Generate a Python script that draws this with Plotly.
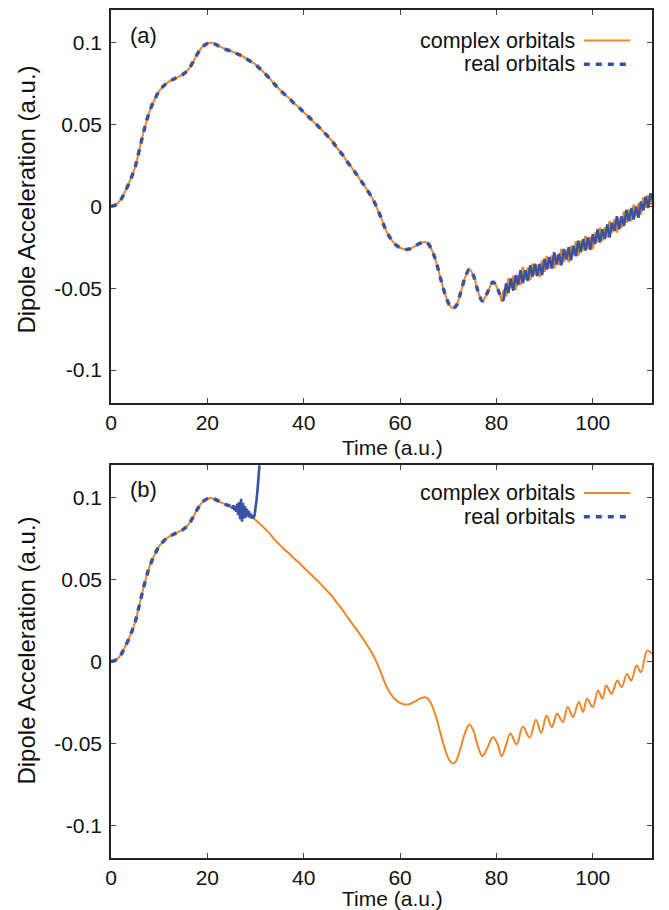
import plotly.graph_objects as go

# ---------------- data ----------------
# shared smooth part of the dipole acceleration (both panels, both orbital types)
t_base = [0, 1, 2, 3, 4, 5, 6, 7, 8, 9, 10, 11, 12, 13, 14, 15, 16, 17, 18, 19, 20,
          20.8, 21.5, 22.5, 24, 25, 26, 27, 28, 29, 30, 31, 32, 33, 34, 35, 36, 37, 38,
          39, 40, 41, 42, 43, 44, 45, 46, 47, 48, 49, 50, 51, 52, 53, 54, 55, 56, 57,
          58, 59, 60, 61, 62, 63, 64, 65, 65.6, 66.5, 67.5, 68.5, 69.5, 70.3, 71, 71.7,
          72.5, 73.5, 74.4, 75.2, 76.2, 77.1, 78.0, 79.3, 80.2, 81.1]
a_base = [0.000, 0.001, 0.004, 0.0095, 0.016, 0.024, 0.036, 0.048, 0.058, 0.065, 0.0705,
          0.0738, 0.0762, 0.0778, 0.0792, 0.0808, 0.0835, 0.088, 0.0935, 0.0975, 0.0995,
          0.1000, 0.0993, 0.0978, 0.0958, 0.0948, 0.0935, 0.0922, 0.0905, 0.0885, 0.0866,
          0.084, 0.081, 0.078, 0.0745, 0.0715, 0.0685, 0.066, 0.063, 0.0605, 0.0575,
          0.0548, 0.0518, 0.049, 0.046, 0.0428, 0.0395, 0.0355, 0.0318, 0.0275, 0.0235,
          0.0195, 0.0152, 0.0108, 0.0062, 0.0005, -0.0065, -0.0140, -0.0195, -0.0232,
          -0.0252, -0.0262, -0.026, -0.0245, -0.0228, -0.0218, -0.0222, -0.026, -0.034,
          -0.045, -0.055, -0.0605, -0.0622, -0.0605, -0.0535, -0.0435, -0.0385, -0.042,
          -0.052, -0.0578, -0.0535, -0.0462, -0.050, -0.0578]

# panel (b): complex orbitals, smooth oscillating tail
t_tail_b = [82.0, 82.9, 84.2, 85.5, 86.9, 88.2, 89.3, 90.4, 91.5, 92.6, 93.8, 94.8, 95.9,
            97.1, 98.0, 98.8, 100.0, 101.1, 102.0, 102.8, 103.9, 105.1, 106.0, 107.1,
            108.0, 109.1, 110.0, 111.3, 112.3]
a_tail_b = [-0.051, -0.044, -0.0505, -0.0396, -0.0465, -0.0355, -0.0436, -0.0329, -0.040,
            -0.0318, -0.0369, -0.0278, -0.0339, -0.0247, -0.0308, -0.0227, -0.0278,
            -0.0176, -0.0227, -0.0146, -0.0197, -0.0116, -0.0156, -0.0075, -0.0116,
            -0.0024, -0.0065, 0.0067, 0.0047]

# panel (a): noisy tails of both calculations
t_tail_a = [81.1, 81.5, 82.0, 82.5, 83.0, 83.5, 84.0, 84.5, 85.0, 85.5, 86.0, 86.5, 87.0,
            87.5, 88.0, 88.5, 89.0, 89.5, 90.0, 90.5, 91.0, 91.5, 92.0, 92.5, 93.0, 93.5,
            94.0, 94.5, 95.0, 95.5, 96.0, 96.5, 97.0, 97.5, 98.0, 98.5, 99.0, 99.5, 100.0,
            100.5, 101.0, 101.5, 102.0, 102.5, 103.0, 103.5, 104.0, 104.5, 105.0, 105.5,
            106.0, 106.5, 107.0, 107.5, 108.0, 108.5, 109.0, 109.5, 110.0, 110.5, 111.0,
            111.5, 112.0, 112.3]
complex_tail_a = [-0.0578, -0.051, -0.055, -0.044, -0.050, -0.0425, -0.051, -0.042, -0.048,
                  -0.037, -0.045, -0.0375, -0.045, -0.035, -0.042, -0.0355, -0.043, -0.033,
                  -0.040, -0.0305, -0.038, -0.030, -0.038, -0.0295, -0.036, -0.026, -0.034,
                  -0.0265, -0.034, -0.024, -0.030, -0.0215, -0.030, -0.021, -0.027, -0.018,
                  -0.026, -0.0185, -0.026, -0.016, -0.022, -0.013, -0.021, -0.013, -0.019,
                  -0.009, -0.016, -0.008, -0.016, -0.007, -0.013, -0.003, -0.010, -0.002,
                  -0.009, 0.001, -0.006, 0.002, -0.005, 0.0055, -0.001, 0.007, 0.001, 0.006]
real_tail_a = [-0.0578, -0.057, -0.047, -0.053, -0.044, -0.0515, -0.042, -0.048, -0.039,
               -0.047, -0.039, -0.0455, -0.036, -0.043, -0.035, -0.0425, -0.035, -0.042,
               -0.032, -0.0385, -0.031, -0.038, -0.028, -0.0355, -0.029, -0.036, -0.026,
               -0.0325, -0.025, -0.033, -0.024, -0.0305, -0.021, -0.028, -0.020, -0.027,
               -0.019, -0.0265, -0.017, -0.023, -0.014, -0.022, -0.014, -0.020, -0.011,
               -0.019, -0.010, -0.015, -0.006, -0.014, -0.006, -0.012, -0.002, -0.009,
               -0.001, -0.008, 0.000, -0.007, 0.003, -0.0025, 0.006, -0.001, 0.008, 0.004]

# panel (b): real orbitals become unstable and blow up
t_real_b = [25.0, 25.2, 25.4, 25.6, 25.8, 26.0, 26.2, 26.4, 26.6, 26.8, 27.0, 27.2, 27.4,
            27.6, 27.8, 28.0, 28.2, 28.4, 28.6, 28.8, 29.0, 29.2, 29.4, 29.6, 29.8, 30.0,
            30.2, 30.4, 30.6, 30.8, 31.0]
a_real_b = [0.0948, 0.0935, 0.0955, 0.0925, 0.0950, 0.0915, 0.0965, 0.0895, 0.0975, 0.0870,
            0.0995, 0.0855, 0.0970, 0.0875, 0.0950, 0.0880, 0.0935, 0.0890, 0.0920, 0.0880,
            0.0905, 0.0875, 0.0885, 0.0878, 0.0895, 0.0930, 0.0985, 0.1045, 0.1110, 0.1185,
            0.1270]

x_ticks = [0, 20, 40, 60, 80, 100]
y_ticks = [-0.1, -0.05, 0, 0.05, 0.1]
y_tick_text = ["-0.1", "-0.05", "0", "0.05", "0.1"]
legend_labels = ["complex orbitals", "real orbitals"]
panel_labels = ["(a)", "(b)"]

ORANGE = "#f0862a"
BLUE = "#3953a4"
FONT = "Liberation Sans, Arial, sans-serif"

# ---------------- figure ----------------
fig = go.Figure()

base_real_b = [(t, a) for t, a in zip(t_base, a_base) if t <= 25]

# panel (a)
fig.add_trace(go.Scatter(x=t_base, y=a_base, mode="lines", xaxis="x", yaxis="y",
                         line=dict(color=ORANGE, width=2, shape="spline")))
fig.add_trace(go.Scatter(x=t_tail_a, y=complex_tail_a, mode="lines", xaxis="x", yaxis="y",
                         line=dict(color=ORANGE, width=2.5)))
fig.add_trace(go.Scatter(x=t_base, y=a_base, mode="lines", xaxis="x", yaxis="y",
                         line=dict(color=BLUE, width=3.5, dash="6px,6px", shape="spline")))
fig.add_trace(go.Scatter(x=t_tail_a, y=real_tail_a, mode="lines", xaxis="x", yaxis="y",
                         line=dict(color=BLUE, width=2.5)))

# panel (b)
fig.add_trace(go.Scatter(x=t_base + t_tail_b, y=a_base + a_tail_b, mode="lines",
                         xaxis="x2", yaxis="y2",
                         line=dict(color=ORANGE, width=2, shape="spline")))
fig.add_trace(go.Scatter(x=[p[0] for p in base_real_b], y=[p[1] for p in base_real_b],
                         mode="lines", xaxis="x2", yaxis="y2",
                         line=dict(color=BLUE, width=3.5, dash="6px,6px", shape="spline")))
fig.add_trace(go.Scatter(x=t_real_b, y=a_real_b, mode="lines", xaxis="x2", yaxis="y2",
                         line=dict(color=BLUE, width=2.6)))

axis_common = dict(showline=True, linecolor="#222", linewidth=1.5, mirror="ticks",
                   ticks="inside", ticklen=5, tickwidth=1, tickcolor="#444",
                   showgrid=False, zeroline=False,
                   tickfont=dict(family=FONT, size=21, color="#111"))

# the page body has an 8px default margin, so the figure is shifted by 8px
fig.update_layout(
    width=661, height=902,
    paper_bgcolor="white", plot_bgcolor="white",
    margin=dict(l=103, r=17, t=0, b=52),
    showlegend=False,
    xaxis=dict(domain=[0, 1], anchor="y", range=[0, 112.3], tickvals=x_ticks,
               ticklabelstandoff=0, **axis_common),
    yaxis=dict(domain=[0.5368, 1], anchor="x", range=[-0.12, 0.12], tickvals=y_ticks,
               ticktext=y_tick_text, ticklabelstandoff=3, **axis_common),
    xaxis2=dict(domain=[0, 1], anchor="y2", range=[0, 112.3], tickvals=x_ticks,
                ticklabelstandoff=0, **axis_common),
    yaxis2=dict(domain=[0, 0.4632], anchor="x2", range=[-0.12, 0.12], tickvals=y_ticks,
                ticktext=y_tick_text, ticklabelstandoff=3, **axis_common),
)

annotations = []
shapes = []
# layout positions in paper coordinates (top panel, bottom panel)
panel_y_title = [0.7765, 0.2447]
panel_x_title = [0.4835, -0.0482]
label_y = [0.970, 0.434]
legend_rows = [[0.9640, 0.9360], [0.4305, 0.4025]]

for i in range(2):
    annotations.append(dict(x=-0.157, y=panel_y_title[i], xref="paper", yref="paper",
                            text="Dipole Acceleration (a.u.)", textangle=-90, showarrow=False,
                            font=dict(family=FONT, size=24, color="#111"),
                            xanchor="center", yanchor="middle"))
    annotations.append(dict(x=0.520, y=panel_x_title[i], xref="paper", yref="paper",
                            text="Time (a.u.)", showarrow=False,
                            font=dict(family=FONT, size=21, color="#111"),
                            xanchor="center", yanchor="middle"))
    annotations.append(dict(x=0.060, y=label_y[i], xref="paper", yref="paper",
                            text=panel_labels[i], showarrow=False,
                            font=dict(family=FONT, size=22, color="#111"),
                            xanchor="center", yanchor="middle"))
    for j, (lab, col) in enumerate(zip(legend_labels, [ORANGE, BLUE])):
        yy = legend_rows[i][j]
        annotations.append(dict(x=0.861, y=yy, xref="paper", yref="paper", text=lab,
                                showarrow=False, xanchor="right", yanchor="middle",
                                font=dict(family=FONT, size=21.5, color="#111")))
        shapes.append(dict(type="line", xref="paper", yref="paper",
                           x0=0.874, x1=0.960, y0=yy, y1=yy,
                           line=dict(color=col, width=2 if j == 0 else 3.5,
                                     dash="solid" if j == 0 else "6px,6px")))

fig.update_layout(annotations=annotations, shapes=shapes)
fig.write_html("out.html")
